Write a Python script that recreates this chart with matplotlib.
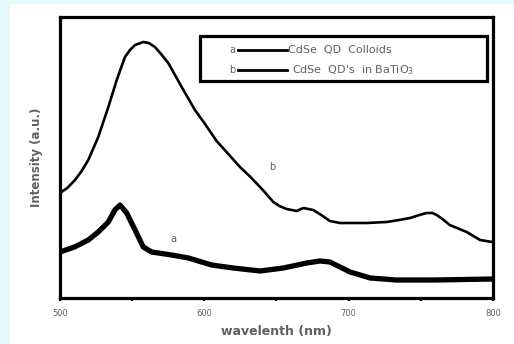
import matplotlib.pyplot as plt
from matplotlib.patches import Rectangle

# curve b: CdSe QD's in BaTiO3
wl_b = [500, 505, 510.4, 515, 519.6, 526.5, 533.5, 539.3, 545, 548.5, 552,
        557.7, 561.5, 565.8, 570, 575, 584.3, 593.5, 600, 608.5, 616, 624.7,
        632, 638.6, 643, 647.8, 652, 657, 664, 668.6, 675.5, 681, 687, 694,
        701, 712.5, 726.3, 735, 742.5, 749, 754, 758, 761, 765, 770, 781.8,
        791, 799.5]
int_b = [105, 110, 118, 127, 138, 161, 191, 218, 241, 248, 253,
         256, 255, 251, 244, 235, 211, 188, 175, 157, 145, 131,
         121, 111, 104, 96, 92, 89, 87, 90, 88, 83, 77, 75,
         75, 75, 76, 78, 80, 83, 85, 85, 83, 79, 73, 66,
         58, 56]

# curve a: CdSe QD colloids
wl_a = [500, 510, 519.6, 526.5, 533.5, 538, 541.6, 546.2, 552, 557.7, 563.5,
        577.3, 589, 605, 620, 638.6, 654.7, 671, 680, 687, 694, 701, 715,
        733, 760, 799.5]
int_a = [46, 51, 58, 66, 76, 88, 93, 85, 68, 51, 46,
         43, 40, 33, 30, 27, 30, 35, 37, 36, 31, 26, 20,
         18, 18, 19]

xticks = [500, 600, 700, 800]
minor_ticks = [550, 650, 750]
gray = '#606060'

plt.rcParams['font.family'] = ['DejaVu Sans']

fig = plt.figure(figsize=(5.14, 3.44), dpi=100)
fig.patch.set_facecolor('#e6fbfb')

# white panel behind the plot
bg = fig.add_axes([10 / 514, 0, 1 - 10 / 514, 1 - 4 / 344])
bg.axis('off')
bg.add_patch(Rectangle((0, 0), 1, 1, transform=bg.transAxes, facecolor='white', edgecolor='none'))

ax = fig.add_axes([60 / 514, 46 / 344, 433 / 514, 281 / 344])
ax.set_zorder(2)
ax.plot(wl_b, int_b, color='black', lw=1.9, solid_joinstyle='round')
ax.plot(wl_a, int_a, color='black', lw=3.8, solid_joinstyle='round')

ax.set_xlim(500, 800)
ax.set_ylim(0, 281)
ax.set_xticks(xticks)
ax.set_xticks(minor_ticks, minor=True)
ax.set_yticks([])
ax.tick_params(axis='x', which='both', direction='out', length=2, width=1.6,
               labelsize=6, labelcolor=gray, pad=6)
for s in ax.spines.values():
    s.set_linewidth(2.3)

ax.set_xlabel('wavelenth (nm)', fontsize=9, fontweight='bold', color=gray, labelpad=5)
ax.set_ylabel('Intensity (a.u.)', fontsize=8.5, fontweight='bold', color=gray, labelpad=12)

ax.text(647, 131, 'b', fontsize=7, color=gray, ha='center', va='center')
ax.text(578.5, 59, 'a', fontsize=7, color=gray, ha='center', va='center')

# legend box drawn by hand
tr = ax.transAxes
ax.add_patch(Rectangle((0.324, 0.772), 0.663, 0.16, transform=tr, fill=False,
                       lw=2.3, edgecolor='black'))
ax.text(0.397, 0.883, 'a', transform=tr, fontsize=7, color=gray, va='center', ha='center')
ax.plot([0.41, 0.524], [0.883, 0.883], transform=tr, color='black', lw=2)
ax.text(0.527, 0.883, 'CdSe  QD  Colloids', transform=tr, fontsize=8, color=gray, va='center')
ax.text(0.397, 0.811, 'b', transform=tr, fontsize=7, color=gray, va='center', ha='center')
ax.plot([0.41, 0.524], [0.811, 0.811], transform=tr, color='black', lw=2)
ax.text(0.535, 0.811, "CdSe  QD's  in BaTiO$_3$", transform=tr, fontsize=8, color=gray, va='center')

fig.savefig('out.png', dpi=100)
